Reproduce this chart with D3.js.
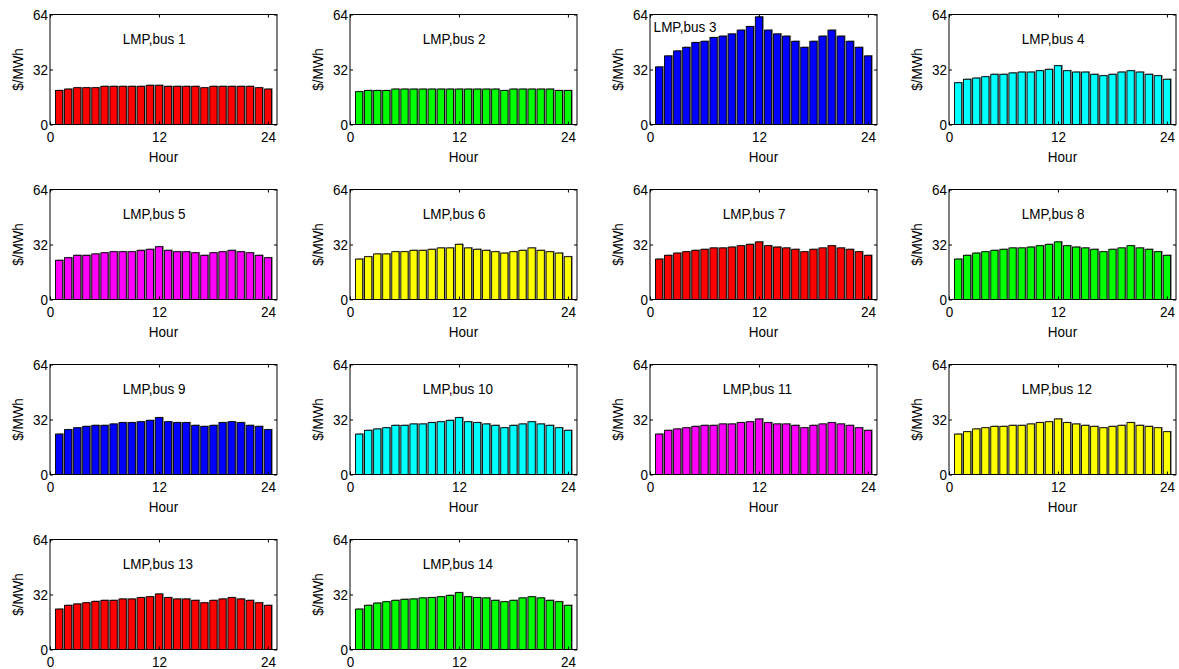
<!DOCTYPE html>
<html>
<head>
<meta charset="utf-8">
<script src="https://cdn.jsdelivr.net/npm/d3@7"></script>
<style>
  body { margin: 0; background: #fff; }
  svg text { font-family: "Liberation Sans", Arial, sans-serif; font-size: 13.5px; fill: #000;
             transform-box: fill-box; transform-origin: center; transform: scaleY(1.12); }
</style>
</head>
<body>
<svg width="1179" height="669"></svg>
<script>
// hours 1..24
var hours = d3.range(1, 25);

// LMP per bus ($/MWh)
var bus1  = [19.8,20.6,21.4,21.4,21.4,22.2,22.2,22.2,22.2,22.2,22.8,22.8,22.2,22.2,22.2,22.2,21.4,22.2,22.2,22.2,22.2,22.2,21.4,20.6];
var bus2  = [19.1,19.8,19.8,19.8,20.6,20.6,20.6,20.6,20.6,20.6,20.6,20.6,20.6,20.6,20.6,20.6,19.8,20.6,20.6,20.6,20.6,20.6,19.8,19.8];
var bus3  = [33.5,39.9,42.8,44.9,47.7,48.4,50.6,51.4,52.7,54.9,57.0,62.6,54.9,52.7,51.4,48.4,44.9,48.4,51.4,54.9,51.4,48.4,44.9,39.9];
var bus4  = [24.3,26.3,27.0,27.8,29.2,29.2,30.0,30.5,30.5,31.3,32.1,34.2,31.3,30.5,30.5,29.2,28.4,29.2,30.5,31.3,30.5,29.2,28.4,26.3];
var bus5  = [22.8,24.3,25.7,25.7,26.5,27.2,27.8,27.8,27.8,28.6,29.2,30.7,28.6,27.8,27.8,27.2,25.7,27.2,27.8,28.6,27.8,27.2,25.7,24.3];
var bus6  = [23.5,24.9,26.5,26.5,27.8,27.8,28.6,28.6,29.2,30.0,30.0,32.1,30.0,29.2,28.6,27.8,27.0,27.8,28.6,30.0,28.6,27.8,27.0,24.9];
var bus7  = [23.5,25.7,27.0,27.8,28.6,29.2,30.0,30.0,30.5,31.3,32.1,33.5,31.3,30.5,30.0,29.2,27.8,29.2,30.0,31.3,30.0,29.2,27.8,25.7];
var bus8  = [23.5,25.7,27.0,27.8,28.6,29.2,30.0,30.0,30.5,31.3,32.1,33.5,31.3,30.5,30.0,29.2,27.8,29.2,30.0,31.3,30.0,29.2,27.8,25.7];
var bus9  = [23.5,26.1,27.2,28.0,28.6,28.6,29.4,30.2,30.2,30.7,31.5,33.1,30.7,30.2,30.2,28.6,28.0,28.6,30.2,30.7,30.2,28.6,28.0,26.1];
var bus10 = [23.5,25.7,26.5,27.2,28.6,28.6,29.4,29.4,30.2,30.7,31.5,33.1,30.7,30.2,29.4,28.6,27.2,28.6,29.4,30.7,29.4,28.6,27.2,25.7];
var bus11 = [23.5,25.7,26.5,27.2,28.0,28.6,28.6,29.4,29.4,30.2,30.7,32.3,30.2,29.4,29.4,28.6,27.2,28.6,29.4,30.2,29.4,28.6,27.2,25.7];
var bus12 = [23.5,24.9,26.5,27.2,28.0,28.0,28.6,28.6,29.4,30.2,30.7,32.3,30.2,29.4,28.6,28.0,27.2,28.0,28.6,30.2,28.6,28.0,27.2,24.9];
var bus13 = [23.5,25.7,26.5,27.2,28.0,28.6,28.6,29.4,29.4,30.2,30.7,32.3,30.2,29.4,29.4,28.6,27.2,28.6,29.4,30.2,29.4,28.6,27.2,25.7];
var bus14 = [23.5,25.7,27.0,27.8,28.6,29.2,29.4,30.0,30.2,30.7,31.5,33.1,30.7,30.2,30.0,28.6,27.8,28.6,30.0,30.7,30.0,28.6,27.8,25.7];

var series = [bus1, bus2, bus3, bus4, bus5, bus6, bus7, bus8, bus9, bus10, bus11, bus12, bus13, bus14];
var colors = ["#ff0000", "#00ff00", "#0000ff", "#00ffff", "#ff00ff", "#ffff00"];
var xTicks = [0, 12, 24];
var yTicks = [0, 32, 64];

var svg = d3.select("svg");

// panel grid
var colLeft = [50, 350, 650, 949],
    rowTop = [14.5, 189.5, 364.5, 539.5],
    w = 227, h = 110;

var x = d3.scaleLinear().domain([0, 25]).range([0, w]);
var y = d3.scaleLinear().domain([0, 64]).range([h, 0]);

series.forEach(function (vals, k) {
    var row = Math.floor(k / 4);
    var g = svg.append("g")
        .attr("transform", "translate(" + colLeft[k % 4] + "," + rowTop[row] + ")");
    var color = colors[k % colors.length];

    // shadow then bar
    g.selectAll("rect.shadow")
        .data(vals)
        .enter()
        .append("rect")
        .attr("class", "shadow")
        .attr("x", function (d, i) { return x(hours[i] - 0.4) + 1.3; })
        .attr("y", function (d) { return y(d) - 0.8; })
        .attr("width", x(0.8))
        .attr("height", function (d) { return h - y(d) + 0.8; })
        .attr("fill", "#8c8c8c");

    g.selectAll("rect.bar")
        .data(vals)
        .enter()
        .append("rect")
        .attr("class", "bar")
        .attr("x", function (d, i) { return x(hours[i] - 0.4); })
        .attr("y", function (d) { return y(d); })
        .attr("width", x(0.8))
        .attr("height", function (d) { return h - y(d); })
        .attr("fill", color)
        .attr("stroke", "#000")
        .attr("stroke-width", 0.9);

    // axes with inward ticks
    g.append("g")
        .attr("transform", "translate(0," + h + ")")
        .call(d3.axisBottom(x).tickValues(xTicks).tickSizeInner(-3).tickSizeOuter(0).tickPadding(7.5))
        .call(function (a) { a.select(".domain").remove(); a.selectAll("text").attr("font-size", null); });
    g.append("g")
        .call(d3.axisLeft(y).tickValues(yTicks).tickSizeInner(-3).tickSizeOuter(0).tickPadding(2))
        .call(function (a) { a.select(".domain").remove(); a.selectAll("text").attr("font-size", null); });
    g.append("g")
        .call(d3.axisTop(x).tickValues(xTicks).tickSizeInner(-3).tickSizeOuter(0).tickFormat(""))
        .call(function (a) { a.select(".domain").remove(); });
    g.append("g")
        .attr("transform", "translate(" + w + ",0)")
        .call(d3.axisRight(y).tickValues(yTicks).tickSizeInner(-3).tickSizeOuter(0).tickFormat(""))
        .call(function (a) { a.select(".domain").remove(); });
    g.selectAll(".tick line").attr("stroke", "#000");

    g.append("rect")
        .attr("width", w)
        .attr("height", h)
        .attr("fill", "none")
        .attr("stroke", "#000")
        .attr("stroke-width", 1);

    // title at a data position
    var tx = (k === 2) ? 0.4 : 8,
        ty = (k === 2) ? 57 : 50;
    g.append("text")
        .attr("x", x(tx))
        .attr("y", y(ty))
        .attr("dy", "0.36em")
        .text("LMP,bus " + (k + 1));

    // bottom row's x label falls below the page in the original
    if (row < 3) {
        g.append("text")
            .attr("x", w / 2)
            .attr("y", h + 36.5)
            .attr("text-anchor", "middle")
            .text("Hour");
    }

    g.append("g")
        .attr("transform", "translate(-28," + (h / 2) + ") rotate(-90)")
        .append("text")
        .attr("text-anchor", "middle")
        .text("$/MWh");
});
</script>
</body>
</html>
